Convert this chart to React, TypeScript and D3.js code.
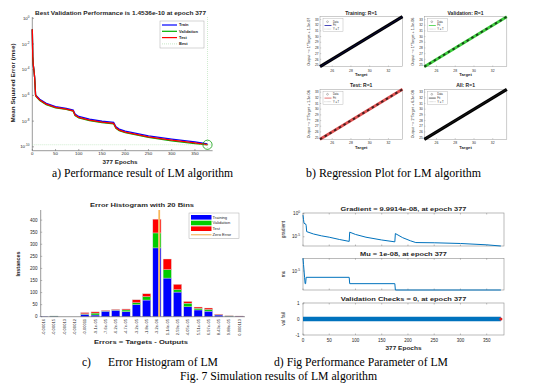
import React, { useEffect, useRef } from "react";
import * as d3 from "d3";

// a) performance (mse per epoch)
const perfEpochs = [0, 1, 2, 4, 5, 6, 7, 8, 16, 30, 50, 73, 88, 92, 100, 123, 150, 175, 180, 187, 200, 250, 300, 350, 377];
const perfTrain = [1.38e-1, 1e-3, 2.5e-4, 6.3e-5, 2.5e-5, 6.3e-6, 1.12e-6, 1e-6, 5e-7, 2.4e-7, 1.35e-7, 1e-7, 7.2e-8, 3.5e-8, 2.3e-8, 1.41e-8, 9.8e-9, 7.9e-9, 3.6e-9, 2.4e-9, 1.66e-9, 7.2e-10, 4e-10, 2.4e-10, 1.66e-10];
const perfValidation = [1.38e-1, 1e-3, 2.5e-4, 6.3e-5, 2.5e-5, 6.3e-6, 1.12e-6, 8.3e-7, 4.1e-7, 1.95e-7, 1.1e-7, 8.1e-8, 5.9e-8, 2.75e-8, 1.82e-8, 1.12e-8, 7.8e-9, 6.2e-9, 2.75e-9, 1.82e-9, 1.26e-9, 5.4e-10, 2.95e-10, 1.78e-10, 1.4536e-10];
const perfTest = [1.38e-1, 1e-3, 2.5e-4, 6.3e-5, 2.5e-5, 6.3e-6, 1.12e-6, 8.9e-7, 4.4e-7, 2.1e-7, 1.17e-7, 8.7e-8, 6.3e-8, 2.95e-8, 1.95e-8, 1.2e-8, 8.3e-9, 6.6e-9, 3e-9, 2e-9, 1.38e-9, 6e-10, 3.3e-10, 2.04e-10, 1.5e-10];
const bestEpoch = 377;
const bestPerf = 1.4536e-10;
const perfXTicks = [0, 50, 100, 150, 200, 250, 300, 350];
const perfYExps = [0, -2, -4, -6, -8, -10];

// b) regression
const regTitles = ["Training: R=1", "Validation: R=1", "Test: R=1", "All: R=1"];
const regYLabels = ["Output ~= 1*Target + 1.3e-07", "Output ~= 1*Target + 1.3e-06", "Output ~= 1*Target + 1.3e-06", "Output ~= 1*Target + 6.3e-08"];
const regFitColors = ["#1a1aa8", "#3ccf3c", "#e05050", "#404040"];
const regTargetRange = [24.7, 33.5];
const regXTicks = [26, 28, 30, 32];
const regYTicks = [25, 26, 27, 28, 29, 30, 31, 32, 33];

// c) error histogram
const binLabels = ["-0.00016", "-0.00015", "-0.00013", "-0.00012", "-0.00011", "-9.1e-05", "-7.6e-05", "-6.2e-05", "-4.7e-05", "-3.2e-05", "-1.8e-05", "-3.2e-06", "1.14e-05", "2.59e-05", "4.05e-05", "5.51e-05", "6.97e-05", "8.43e-05", "9.88e-05", "0.000113"];
const histTraining = [1, 2, 0, 0, 10, 7, 23, 27, 21, 50, 69, 285, 160, 102, 41, 28, 23, 7, 2, 2];
const histValidation = [0, 1, 0, 0, 2, 8, 1, 1, 7, 8, 14, 62, 35, 10, 15, 7, 7, 1, 1, 0];
const histTest = [0, 0, 0, 0, 5, 5, 3, 3, 4, 12, 12, 57, 44, 22, 7, 5, 6, 2, 1, 1];
const histYTicks = [0, 50, 100, 150, 200, 250, 300, 350, 400];

// d) training state
const gradEpochs = [0, 1, 2, 5, 6, 7, 20, 35, 50, 70, 88, 89, 100, 120, 150, 175, 176, 190, 205, 215, 250, 300, 350, 377];
const gradValues = [0.5, 5e-2, 8e-3, 6e-3, 3e-3, 1.3e-4, 4e-5, 1.6e-5, 8e-6, 2.5e-6, 1e-6, 1e-4, 3.2e-5, 8e-6, 2e-6, 8e-7, 5e-5, 6.3e-6, 1.3e-6, 5.6e-7, 5e-7, 3.5e-7, 1.8e-7, 9.9914e-8];
const muEpochs = [0, 1, 2, 3, 4, 5, 6, 88, 89, 175, 176, 377];
const muValues = [1e-3, 1e-4, 1e-5, 1e-6, 1e-7, 1e-7, 1e-6, 1e-6, 1e-7, 1e-7, 1e-8, 1e-8];
const valFailEpochs = [0, 377];
const valFailValues = [0, 0];
const trainXTicks = [0, 50, 100, 150, 200, 250, 300, 350];

const SANS = "'Liberation Sans', Arial, sans-serif";
const SERIF = "'Liberation Serif', 'Times New Roman', serif";
const INK = "#262626";

type Opts = { anchor?: string; bold?: boolean; serif?: boolean; len?: number; rotate?: boolean; fill?: string };

function txt(g: any, x: number, y: number, s: string, size: number, o: Opts = {}) {
  const t = g
    .append("text")
    .attr("x", x)
    .attr("y", y)
    .attr("font-size", size)
    .attr("font-family", o.serif ? SERIF : SANS)
    .attr("fill", o.fill || (o.serif ? "#000" : INK))
    .attr("text-anchor", o.anchor || "middle")
    .text(s);
  if (o.bold) t.attr("font-weight", "bold");
  if (o.len) t.attr("textLength", o.len).attr("lengthAdjust", "spacingAndGlyphs");
  if (o.rotate) t.attr("transform", `rotate(-90 ${x} ${y})`);
  return t;
}

function powTick(g: any, x: number, y: number, exp: number, size: number) {
  const t = txt(g, x, y, "10", size, { anchor: "end" });
  t.append("tspan").attr("dy", -size * 0.45).attr("font-size", size * 0.7).text(String(exp));
}

function line(g: any, x1: number, y1: number, x2: number, y2: number, stroke: string, w: number) {
  return g.append("line").attr("x1", x1).attr("y1", y1).attr("x2", x2).attr("y2", y2).attr("stroke", stroke).attr("stroke-width", w);
}

function drawPerformance(svg: any) {
  const g = svg.append("g");
  const x = d3.scaleLinear().domain([0, 388]).range([32.3, 212.6]);
  const y = d3.scaleLog().domain([10 ** -10.3, 10 ** 0.1]).range([150.7, 17]);

  line(g, 32.3, 17, 32.3, 150.7, "#555", 0.6);
  line(g, 32.3, 150.7, 212.6, 150.7, "#555", 0.6);
  perfXTicks.forEach((t) => {
    line(g, x(t), 150.7, x(t), 149, "#555", 0.5);
    txt(g, x(t), 154.8, String(t), 4.4);
  });
  perfYExps.forEach((e) => {
    line(g, 32.3, y(10 ** e), 34, y(10 ** e), "#555", 0.5);
    powTick(g, 29.5, y(10 ** e) + 1.6, e, 4.4);
  });

  const series = [
    { v: perfTrain, c: "#0000ff" },
    { v: perfValidation, c: "#00b000" },
    { v: perfTest, c: "#ff0000" },
  ];
  series.forEach((s) => {
    const path = d3
      .line<number>()
      .x((_, i) => x(perfEpochs[i]))
      .y((d) => y(d))(s.v);
    g.append("path").attr("d", path).attr("fill", "none").attr("stroke", s.c).attr("stroke-width", 1.3);
  });

  // best markers
  line(g, x(bestEpoch), 17, x(bestEpoch), 150.7, "#9fd89f", 0.5).attr("stroke-dasharray", "1,1");
  line(g, 32.3, y(bestPerf), 212.6, y(bestPerf), "#9fd89f", 0.5).attr("stroke-dasharray", "1,1");
  g.append("circle").attr("cx", x(bestEpoch)).attr("cy", y(bestPerf)).attr("r", 4.6)
    .attr("fill", "none").attr("stroke", "#10a010").attr("stroke-width", 0.8);

  txt(g, 120.5, 15, "Best Validation Performance is 1.4536e-10 at epoch 377", 5.6, { bold: true, len: 171 });
  txt(g, 120, 163.5, "377 Epochs", 5.8, { bold: true, len: 35 });
  txt(g, 15, 83, "Mean Squared Error  (mse)", 5.4, { bold: true, rotate: true, len: 79 });

  // legend
  g.append("rect").attr("x", 160).attr("y", 21).attr("width", 44).attr("height", 27)
    .attr("fill", "#fff").attr("stroke", "#aaa").attr("stroke-width", 0.5);
  const entries = [
    { n: "Train", c: "#0000ff", dash: null },
    { n: "Validation", c: "#00b000", dash: null },
    { n: "Test", c: "#ff0000", dash: null },
    { n: "Best", c: "#9fd89f", dash: "1,1" },
  ];
  entries.forEach((e, i) => {
    const yy = 25 + i * 6.3;
    const l = line(g, 162, yy, 177, yy, e.c, e.dash ? 0.6 : 1.2);
    if (e.dash) l.attr("stroke-dasharray", e.dash);
    txt(g, 179, yy + 1.4, e.n, 4, { anchor: "start", bold: true });
  });
}

function drawRegression(svg: any) {
  const layout = [
    { left: 320, top: 16.7 },
    { left: 424.3, top: 16.7 },
    { left: 320, top: 89.3 },
    { left: 424.3, top: 89.3 },
  ];
  const w = 82.5;
  const h = 50;
  layout.forEach((b, k) => {
    const g = svg.append("g");
    const x = d3.scaleLinear().domain(regTargetRange).range([b.left, b.left + w]);
    const y = d3.scaleLinear().domain(regTargetRange).range([b.top + h, b.top]);
    g.append("rect").attr("x", b.left).attr("y", b.top).attr("width", w).attr("height", h)
      .attr("fill", "#fff").attr("stroke", "#999").attr("stroke-width", 0.5);
    regXTicks.forEach((t) => {
      line(g, x(t), b.top + h, x(t), b.top + h - 1.2, "#888", 0.4);
      txt(g, x(t), b.top + h + 5, String(t), 3.4);
    });
    regYTicks.forEach((t) => {
      line(g, b.left, y(t), b.left + 1.2, y(t), "#888", 0.4);
      txt(g, b.left - 1.5, y(t) + 1.2, String(t), 3.2, { anchor: "end" });
    });
    const [lo, hi] = regTargetRange;
    if (k === 1 || k === 2) {
      line(g, x(lo), y(lo), x(hi), y(hi), regFitColors[k], 2.8);
      line(g, x(lo), y(lo), x(hi), y(hi), "#111", 2).attr("stroke-dasharray", "2.5,3").attr("opacity", 0.75);
    } else {
      line(g, x(lo), y(lo), x(hi), y(hi), "#000", 3.2);
      line(g, x(lo), y(lo), x(hi), y(hi), regFitColors[k], 0.6).attr("opacity", 0.6);
    }
    txt(g, b.left + w / 2, b.top - 2.2, regTitles[k], 5, { bold: true });
    txt(g, b.left + w / 2, b.top + h + 9.2, "Target", 4.2, { bold: true });
    txt(g, b.left - 10, b.top + h / 2, regYLabels[k], 3.6, { rotate: true, len: 48 });

    // legend
    const lx = b.left + 3;
    const ly = b.top + 2;
    g.append("rect").attr("x", lx).attr("y", ly).attr("width", 20).attr("height", 13)
      .attr("fill", "#fff").attr("stroke", "#aaa").attr("stroke-width", 0.4);
    g.append("circle").attr("cx", lx + 4.5).attr("cy", ly + 3).attr("r", 0.9)
      .attr("fill", "none").attr("stroke", "#333").attr("stroke-width", 0.3);
    txt(g, lx + 10, ly + 3.9, "Data", 2.6, { anchor: "start" });
    line(g, lx + 1.5, ly + 6.8, lx + 8.5, ly + 6.8, regFitColors[k], 0.8);
    txt(g, lx + 10, ly + 7.7, "Fit", 2.6, { anchor: "start" });
    line(g, lx + 1.5, ly + 10.4, lx + 8.5, ly + 10.4, "#777", 0.4).attr("stroke-dasharray", "0.6,0.6");
    txt(g, lx + 10, ly + 11.3, "Y = T", 2.6, { anchor: "start" });
  });
}

function drawHistogram(svg: any) {
  const g = svg.append("g");
  const idx = d3.range(binLabels.length);
  const x = d3.scaleBand<number>().domain(idx).range([38.5, 244.5]).paddingInner(0.2).paddingOuter(0.1);
  const y = d3.scaleLinear().domain([0, 442]).range([316.7, 210]);
  const bw = x.bandwidth();
  const centers = idx.map((i) => (x(i) as number) + bw / 2);
  const errX = d3.scaleLinear().domain(binLabels.map(Number)).range(centers);

  const stacks = [
    { v: histTraining, c: "#0000ff" },
    { v: histValidation, c: "#00cc00" },
    { v: histTest, c: "#ff0000" },
  ];
  idx.forEach((i) => {
    let base = 0;
    stacks.forEach((s) => {
      const v = s.v[i];
      if (v > 0) {
        g.append("rect").attr("x", x(i)).attr("y", y(base + v)).attr("width", bw)
          .attr("height", y(base) - y(base + v)).attr("fill", s.c)
          .attr("stroke", "#d8d8d8").attr("stroke-width", 0.4);
      }
      base += v;
    });
  });

  line(g, 40.7, 210, 40.7, 316.7, "#555", 0.6);
  line(g, 40.7, 316.7, 245, 316.7, "#555", 0.6);
  histYTicks.forEach((t) => {
    line(g, 40.7, y(t), 42.2, y(t), "#555", 0.4);
    txt(g, 37.5, y(t) + 1.6, String(t), 4.5, { anchor: "end" });
  });
  idx.forEach((i) => {
    txt(g, centers[i] + 1.4, 319, binLabels[i], 4.1, { anchor: "end", rotate: true });
  });

  const zx = errX(0);
  line(g, zx, 210, zx, 316.7, "#ffd9a0", 2);
  line(g, zx, 210, zx, 316.7, "#f0a030", 0.9);

  txt(g, 142, 207.2, "Error Histogram with 20 Bins", 5.3, { bold: true, len: 104 });
  txt(g, 141, 343.5, "Errors = Targets - Outputs", 5.4, { bold: true, len: 94 });
  txt(g, 19.5, 264, "Instances", 4.8, { bold: true, rotate: true, len: 25 });

  // legend
  g.append("rect").attr("x", 189).attr("y", 213).attr("width", 50).attr("height", 25.5)
    .attr("fill", "#fff").attr("stroke", "#aaa").attr("stroke-width", 0.5);
  const items = [
    { n: "Training", c: "#0000ff" },
    { n: "Validation", c: "#00cc00" },
    { n: "Test", c: "#ff0000" },
  ];
  items.forEach((it, i) => {
    const yy = 215 + i * 5.7;
    g.append("rect").attr("x", 191).attr("y", yy).attr("width", 20.5).attr("height", 4.6).attr("fill", it.c);
    txt(g, 212.5, yy + 3.7, it.n, 4.1, { anchor: "start" });
  });
  line(g, 191, 234.8, 211.5, 234.8, "#f0a030", 0.9);
  txt(g, 212.5, 236.3, "Zero Error", 4.1, { anchor: "start" });
}

function drawTraining(svg: any) {
  const g = svg.append("g");
  const left = 303;
  const right = 504;
  const x = d3.scaleLinear().domain([0, 383]).range([left, right]);
  const blue = "#0072bd";

  const box = (top: number, bottom: number) => {
    g.append("rect").attr("x", left).attr("y", top).attr("width", right - left).attr("height", bottom - top)
      .attr("fill", "#fff").attr("stroke", "#8c8c8c").attr("stroke-width", 0.6);
    trainXTicks.forEach((t) => {
      line(g, x(t), bottom, x(t), bottom - 1.5, "#666", 0.4);
      line(g, x(t), top, x(t), top + 1.5, "#666", 0.4);
    });
  };

  // gradient
  const gy = d3.scaleLog().domain([1e-7, 10 ** 0.15]).range([246, 213]);
  box(213, 246);
  [0, -5].forEach((e) => {
    line(g, left, gy(10 ** e), left + 1.5, gy(10 ** e), "#666", 0.4);
    powTick(g, 300, gy(10 ** e) + 1.6, e, 4.6);
  });
  g.append("path")
    .attr("d", d3.line<number>().x((_, i) => x(gradEpochs[i])).y((d) => gy(d))(gradValues))
    .attr("fill", "none").attr("stroke", blue).attr("stroke-width", 1);
  txt(g, 403.5, 211, "Gradient = 9.9914e-08, at epoch 377", 5.4, { bold: true, len: 126 });
  txt(g, 284.5, 229.5, "gradient", 4.8, { rotate: true });

  // mu
  const my = d3.scaleLog().domain([1e-8, 1e-3]).range([290, 258.3]);
  box(258.3, 290);
  line(g, left, my(1e-5), left + 1.5, my(1e-5), "#666", 0.4);
  powTick(g, 300, my(1e-5) + 1.6, -5, 4.6);
  g.append("path")
    .attr("d", d3.line<number>().x((_, i) => x(muEpochs[i])).y((d) => my(d))(muValues))
    .attr("fill", "none").attr("stroke", blue).attr("stroke-width", 1);
  txt(g, 403.5, 256, "Mu = 1e-08, at epoch 377", 5.4, { bold: true, len: 87 });
  txt(g, 284.5, 274, "mu", 4.8, { rotate: true });

  // validation checks
  const vy = d3.scaleLinear().domain([-1, 1]).range([335, 303]);
  box(303, 335);
  [1, 0, -1].forEach((t) => {
    line(g, left, vy(t), left + 1.5, vy(t), "#666", 0.4);
    txt(g, 299.5, vy(t) + 1.6, String(t), 4.6, { anchor: "end" });
  });
  g.append("path")
    .attr("d", d3.line<number>().x((_, i) => x(valFailEpochs[i])).y((d) => vy(d))(valFailValues))
    .attr("fill", "none").attr("stroke", blue).attr("stroke-width", 4.5);
  g.append("circle").attr("cx", x(bestEpoch)).attr("cy", vy(0)).attr("r", 1.6).attr("fill", "#e02020");
  txt(g, 403.5, 301, "Validation Checks = 0, at epoch 377", 5.4, { bold: true, len: 125.7 });
  txt(g, 284.5, 319, "val fail", 4.8, { rotate: true });

  trainXTicks.forEach((t) => txt(g, x(t), 342.3, String(t), 4.5));
  txt(g, 403.5, 350, "377 Epochs", 5.6, { bold: true, len: 36 });
}

function drawCaptions(svg: any) {
  const g = svg.append("g");
  txt(g, 52, 176.5, "a) Performance result of LM algorithm", 11.5, { serif: true, anchor: "start", len: 181 });
  txt(g, 306, 176.5, "b) Regression Plot for LM algorithm", 11.5, { serif: true, anchor: "start", len: 175 });
  txt(g, 82, 366, "c)", 11.5, { serif: true, anchor: "start" });
  txt(g, 108, 366, "Error Histogram of LM", 11.5, { serif: true, anchor: "start", len: 110 });
  txt(g, 274, 365.5, "d) Fig Performance Parameter of LM", 11.5, { serif: true, anchor: "start", len: 174 });
  txt(g, 180, 380, "Fig. 7 Simulation results of LM algorithm", 11.5, { serif: true, anchor: "start", len: 197 });
}

export default function App() {
  const ref = useRef<SVGSVGElement>(null);

  useEffect(() => {
    const svg = d3.select(ref.current);
    svg.selectAll("*").remove();
    drawPerformance(svg);
    drawRegression(svg);
    drawHistogram(svg);
    drawTraining(svg);
    drawCaptions(svg);
  }, []);

  return (
    <svg
      ref={ref}
      width={540}
      height={387}
      style={{ position: "absolute", left: 0, top: 0, background: "#fff" }}
    />
  );
}
